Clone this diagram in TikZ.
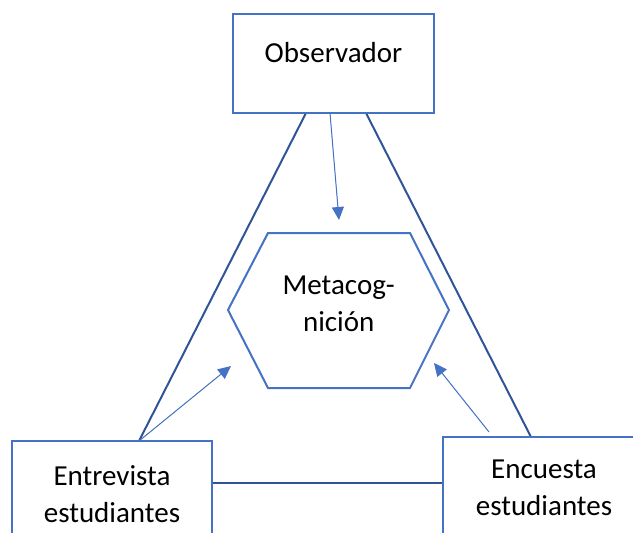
\documentclass[tikz,border=0pt]{standalone}
\usepackage{fontspec}
\setmainfont{Carlito}
\usetikzlibrary{arrows.meta}
\definecolor{boxblue}{HTML}{4472C4}
\definecolor{darkblue}{HTML}{2F5597}
\tikzset{
  boxline/.style={draw=boxblue, line width=2pt, fill=white},
  triline/.style={draw=darkblue, line width=2pt},
  thinarrow/.style={draw=boxblue, line width=1pt, -{Triangle[length=13pt,width=12pt]}, fill=boxblue},
  label/.style={font=\fontsize{29}{37}\selectfont, align=center, inner sep=0pt}
}
\begin{document}
\begin{tikzpicture}[x=1pt,y=-1pt]
\useasboundingbox (0,0) rectangle (633,533);
\clip (0,0) rectangle (633,533);
% connection points
\coordinate (oL) at (306,113);
\coordinate (oM) at (330,113);
\coordinate (oR) at (366,113);
\coordinate (eT) at (139,441);
\coordinate (eR) at (212,483);
\coordinate (cT) at (531,437);
\coordinate (cA) at (489,432);
\coordinate (cL) at (443,483);
\coordinate (hT) at (339,220);
\coordinate (hL) at (231,366);
\coordinate (hR) at (434,363);
% triangle lines
\draw[triline] (oL) -- (eT);
\draw[triline] (oR) -- (cT);
\draw[triline] (eR) -- (cL);
% boxes
\draw[boxline] (233,14) rectangle (434,113);
\node[label] (obs) at (333.5,53) {Observador};
\draw[boxline] (12,441) rectangle (212,570);
\node[label] (ent) at (112,494) {Entrevista\\estudiantes};
\draw[boxline] (443,437) rectangle (660,570);
\node[label] (enc) at (544,487.5) {Encuesta\\estudiantes};
% hexagon
\draw[boxline] (268,233) -- (410,233) -- (449,310) -- (410,388) -- (268,388) -- (228,310) -- cycle;
\node[label] (meta) at (338.7,304) {Metacog-\\nición};
% arrows
\draw[thinarrow] (oM) -- (hT);
\draw[thinarrow] (eT) -- (hL);
\draw[thinarrow] (cA) -- (hR);
\end{tikzpicture}
\end{document}
